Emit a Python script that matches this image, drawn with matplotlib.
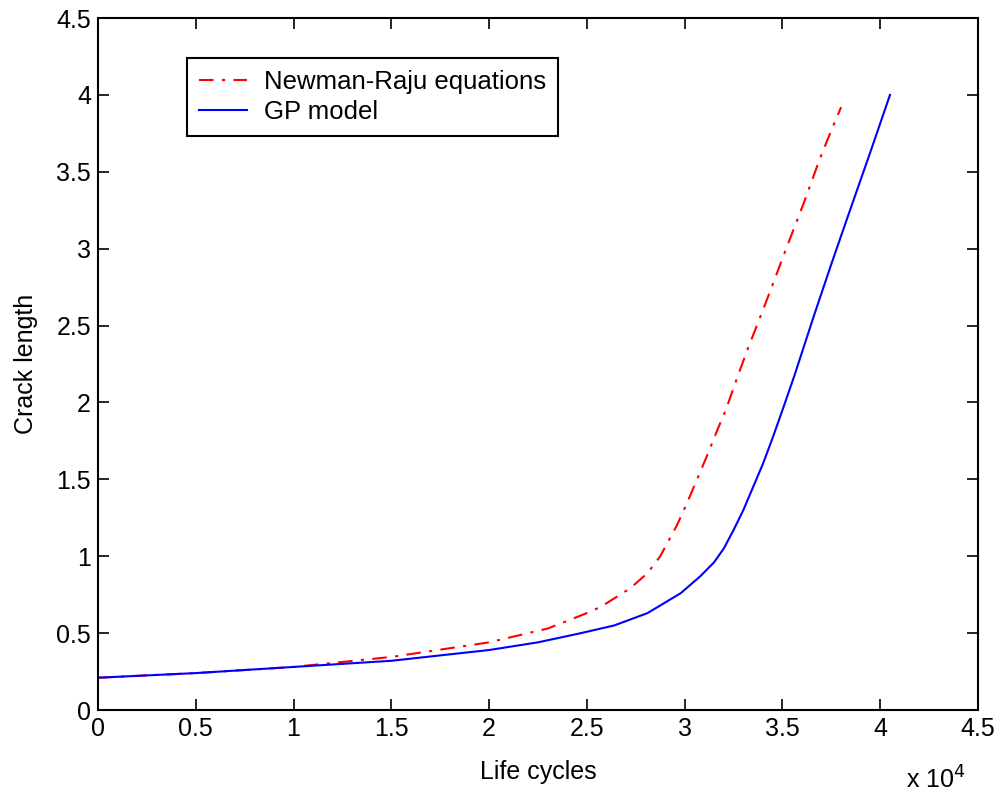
import matplotlib
matplotlib.use("Agg")
import matplotlib.pyplot as plt
import numpy as np

# Data (life cycles, crack length)
nr_cycles = [0, 5000, 10000, 15000, 20000, 23000, 24800, 25700, 27200, 28100,
             28750, 29600, 30100, 30700, 31100, 31700, 32100, 32600, 33200,
             34000, 34600, 35100, 36100, 36900, 37500, 38000]
nr_crack = [0.21, 0.24, 0.28, 0.345, 0.44, 0.53, 0.62, 0.67, 0.79, 0.89,
            1.00, 1.20, 1.34, 1.52, 1.64, 1.83, 1.95, 2.13, 2.34,
            2.60, 2.80, 2.97, 3.30, 3.58, 3.77, 3.92]

gp_cycles = [0, 5000, 10000, 15000, 20000, 22500, 24700, 26400, 28100, 29800,
             30800, 31500, 32000, 32500, 33000, 33500, 34000, 34500, 35000,
             35600, 36600, 37500, 38400, 39500, 40500]
gp_crack = [0.21, 0.24, 0.28, 0.32, 0.39, 0.44, 0.50, 0.55, 0.63, 0.76,
            0.87, 0.96, 1.05, 1.17, 1.30, 1.45, 1.60, 1.77, 1.95,
            2.17, 2.56, 2.90, 3.23, 3.63, 4.00]

x_ticks = [0, 0.5, 1, 1.5, 2, 2.5, 3, 3.5, 4, 4.5]
y_ticks = [0, 0.5, 1, 1.5, 2, 2.5, 3, 3.5, 4, 4.5]
tick_labels = ["0", "0.5", "1", "1.5", "2", "2.5", "3", "3.5", "4", "4.5"]

plt.rcParams['font.family'] = ['Liberation Sans', 'DejaVu Sans']
plt.rcParams['font.size'] = 18

fig = plt.figure(figsize=(10.01, 7.95), dpi=100)
ax = fig.add_axes([98 / 1001, 1 - 710 / 795, 880 / 1001, 692 / 795])

ax.plot(np.array(nr_cycles) / 1e4, nr_crack, color='#ff0000', linestyle=(0, (7, 4, 1.5, 4)),
        linewidth=1.5, label='Newman-Raju equations')
ax.plot(np.array(gp_cycles) / 1e4, gp_crack, color='#0000ff', linestyle='-',
        linewidth=1.5, label='GP model')

ax.set_xlim(0, 4.5)
ax.set_ylim(0, 4.5)
ax.set_xticks(x_ticks)
ax.set_xticklabels(tick_labels)
ax.set_yticks(y_ticks)
ax.set_yticklabels(tick_labels)
ax.tick_params(direction='in', length=8, width=1.2, top=True, right=True, pad=5)
for s in ax.spines.values():
    s.set_linewidth(1.5)

ax.set_xlabel('Life cycles', labelpad=14)
ax.set_ylabel('Crack length', labelpad=13)
fig.text(936 / 1001, 1 - 780 / 795, r'x 10$^4$', ha='center', va='center', fontsize=18)

leg = ax.legend(loc='upper left', bbox_to_anchor=(187 / 1001, 1 - 58 / 795),
                bbox_transform=fig.transFigure, borderaxespad=0, fancybox=False,
                framealpha=1, edgecolor='black', handlelength=1.9, borderpad=0.45,
                labelspacing=0.25, handletextpad=0.65, fontsize=18.5)
leg.get_frame().set_linewidth(1.5)

fig.savefig('out.png', dpi=100)
